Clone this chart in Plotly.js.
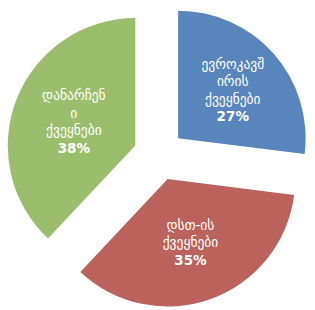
<!DOCTYPE html>
<html>
<head>
<meta charset="utf-8">
<script src="https://cdn.plot.ly/plotly-3.0.1.min.js"></script>
<style>html,body{margin:0;padding:0;background:#fff;}#chart{width:315px;height:310px;}</style>
</head>
<body>
<div id="chart"></div>
<script>
const labels = ["ევროკავშ<br>ირის<br>ქვეყნები", "დსთ-ის<br>ქვეყნები", "დანარჩენ<br>ი<br>ქვეყნები"];
const values = [27, 35, 38];
const colors = ["#5886BC", "#BA625B", "#9BBE6C"];

Plotly.newPlot("chart", [{
  type: "pie",
  labels: labels,
  values: values,
  sort: false,
  direction: "clockwise",
  rotation: 0,
  pull: [0.2, 0.2, 0.2],
  marker: {colors: colors, line: {width: 0}},
  textposition: "inside",
  insidetextorientation: "horizontal",
  texttemplate: "%{label}<br><b>%{percent}</b>",
  textfont: {family: "DejaVu Sans, Noto Sans", size: 13.5, color: "#ffffff"},
  hoverinfo: "none",
  domain: {x: [0, 1], y: [0, 1]}
}], {
  width: 315, height: 310,
  margin: {l: 3, r: 0, t: 2, b: 2},
  showlegend: false,
  paper_bgcolor: "#ffffff"
}, {displayModeBar: false, staticPlot: true});
</script>
</body>
</html>
